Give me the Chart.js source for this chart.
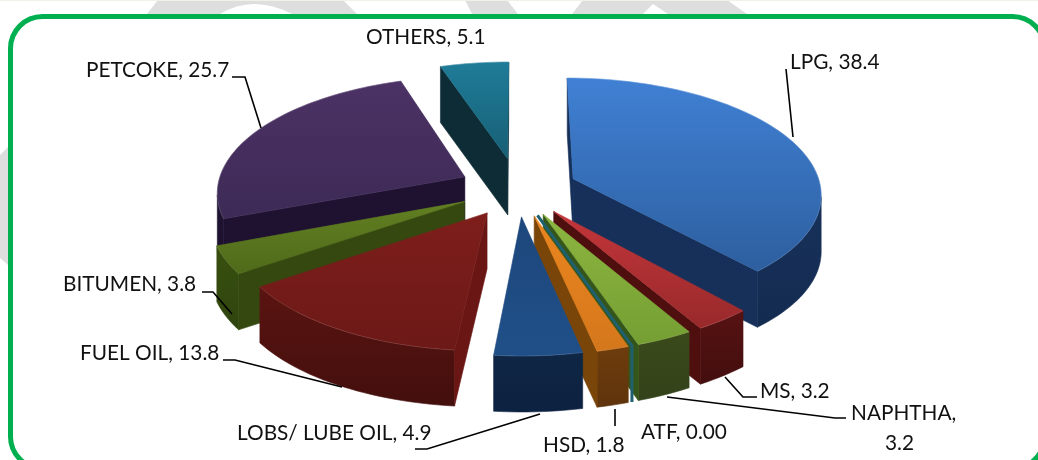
<!DOCTYPE html>
<html>
<head>
<meta charset="utf-8">
<style>html,body{margin:0;padding:0;background:#fff}canvas{display:block}#w{width:1038px;height:460px;position:relative}</style>
<script src="https://cdn.jsdelivr.net/npm/chart.js@4/dist/chart.umd.min.js"></script>
</head>
<body>
<div id="w"><canvas id="c" width="1038" height="460"></canvas></div>
<script>
const categories = ["LPG","MS","NAPHTHA","ATF","HSD","LOBS/ LUBE OIL","FUEL OIL","BITUMEN","PETCOKE","OTHERS"];
const values = [38.4,3.2,3.2,0,1.8,4.9,13.8,3.8,25.7,5.1];
const valueLabels = ["38.4","3.2","3.2","0.00","1.8","4.9","13.8","3.8","25.7","5.1"];
const explode = [0.24,0.24,0.24,0.24,0.24,0.24,0.24,0.24,0.24,0.27];

const topA = ["#4080d4","#c4363a","#8cb540","#1f6070","#ec861f","#1d477c","#7e1e1b","#637f22","#4c3265","#1f7c98"];
const topB = ["#2d5f9f","#98292b","#759f33","#1f6070","#d4771c","#204f88","#6c1917","#4f6b1a","#3d2a56","#175f75"];
const wallA = ["#1b3764","#571212","#3a4a1a","#1f6070","#6e3c0c","#0f2645","#5a1411","#38500f","#24163a","#0f3540"];
const wallB = ["#142b50","#430e0e","#33421a","#1f6070","#5f340c","#0d2140","#430f0d","#2f440e","#1c112d","#0c2a33"];
const cutColors = ["#16305a","#4f0f0f","#35561a","#1f6070","#7a4508","#12305a","#6a1614","#34480f","#1e1230","#0e2c35"];

const camera = {f:248, g:115, p:0.12, depth:56};
const labelFont = '20.8px Lato, "Noto Sans", sans-serif';
const labelSpots = [
  {i:0,x:790,y:62,line:[[786,69],[793,137]]},
  {i:1,x:760,y:391,line:[[725,377],[743,397],[757,397]]},
  {i:2,x:851,y:413,second:[885,443],line:[[667,397],[835,418],[846,418]]},
  {i:3,x:641,y:432},
  {i:4,x:543,y:445,line:[[615,409],[615,426]]},
  {i:5,x:237,y:433,line:[[415,449],[427,449],[540,414]]},
  {i:6,x:80,y:353,line:[[223,360],[235,360],[342,387]]},
  {i:7,x:63,y:284,line:[[202,292],[213,292],[232,314]]},
  {i:8,x:86,y:70,line:[[232,77],[245,77],[261,128]]},
  {i:9,x:366,y:37}
];

function poly(ctx, pts){ ctx.beginPath(); pts.forEach((p,k)=>k?ctx.lineTo(p[0],p[1]):ctx.moveTo(p[0],p[1])); ctx.closePath(); }
function paint(ctx, pts, fill, lw){ poly(ctx,pts); ctx.fillStyle=fill; ctx.strokeStyle=fill; ctx.lineWidth=lw; ctx.fill(); if(lw>0) ctx.stroke(); }
function vGrad(ctx, pts, a, b){ const ys=pts.map(p=>p[1]); const g=ctx.createLinearGradient(0,Math.min(...ys),0,Math.max(...ys)); g.addColorStop(0,a); g.addColorStop(1,b); return g; }

const frame = {
  id:'frame',
  beforeDraw(chart){
    const ctx=chart.ctx; ctx.save();
    ctx.fillStyle='#fff'; ctx.fillRect(0,0,1038,460);
    ctx.fillStyle='#dedede';
    [[[147,14],[158,0],[343,0],[357,14]],
     [[465,0],[507,0],[518,14],[472,14]],
     [[572,14],[583,0],[727,0],[747,14]],
     [[0,155],[8,147],[8,265],[0,258]]].forEach(s=>{poly(ctx,s);ctx.fill();});
    ctx.fillStyle='#fff';
    ctx.beginPath();ctx.moveTo(220,14);ctx.quadraticCurveTo(253,-6,292,14);ctx.closePath();ctx.fill();
    poly(ctx,[[643,14],[653,4],[668,14]]);ctx.fill();
    ctx.fillStyle='#eef3e4';ctx.fillRect(0,0,1038,1);
    ctx.beginPath();ctx.roundRect(10.5,16.5,1034,452,32);
    ctx.fillStyle='#fff';ctx.fill();
    ctx.strokeStyle='#00b050';ctx.lineWidth=5;ctx.stroke();
    ctx.restore();
  }
};

const pie3d = {
  id:'pie3d',
  beforeDatasetsDraw(chart){
    const ctx=chart.ctx, meta=chart.getDatasetMeta(0);
    const arcs=meta.data.map((a,i)=>({a,i,mid:(a.startAngle+a.endAngle)/2}));
    arcs.sort((p,q)=>Math.sin(p.mid)-Math.sin(q.mid));
    ctx.save();
    arcs.forEach(({a,i,mid})=>{
      const R=a.outerRadius, off=a.options.offset/R;
      const ou=Math.cos(mid)*off, ov=Math.sin(mid)*off;
      const proj=(u,v)=>{const w=1-camera.p*v;return [a.x+camera.f*u/w, a.y+camera.g*v/w];};
      const apex=proj(ou,ov);
      const rim=[]; const n=Math.max(1,Math.ceil((a.endAngle-a.startAngle)/0.03));
      for(let k=0;k<=n;k++){const t=a.startAngle+(a.endAngle-a.startAngle)*k/n; rim.push(proj(ou+Math.cos(t),ov+Math.sin(t)));}
      const down=p=>[p[0],p[1]+camera.depth];
      const first=rim[0], last=rim[rim.length-1];
      if(a.endAngle-a.startAngle<1e-6){
        ctx.lineCap='butt';
        ctx.strokeStyle=topA[i];
        ctx.lineWidth=3;
        ctx.beginPath();ctx.moveTo(apex[0],apex[1]);ctx.lineTo(first[0],first[1]);ctx.lineTo(first[0],first[1]+camera.depth);ctx.stroke();
        return;
      }
      // rim wall: contiguous runs of segments facing the viewer, each filled as one shape
      const wallFill=vGrad(ctx,rim.concat(rim.map(down)),wallA[i],wallB[i]);
      let run=[];
      const flush=()=>{ if(run.length>1) paint(ctx,run.concat(run.slice().reverse().map(down)),wallFill,0.6); run=[]; };
      for(let k=0;k<rim.length-1;k++){
        const p=rim[k], q=rim[k+1];
        if(q[0]<p[0]){ if(!run.length) run.push(p); run.push(q); } else flush();
      }
      flush();
      if(first[0]<apex[0]) paint(ctx,[apex,first,down(first),down(apex)],cutColors[i],0.6);
      if(apex[0]<last[0]) paint(ctx,[last,apex,down(apex),down(last)],cutColors[i],0.6);
      const top=[apex].concat(rim);
      paint(ctx,top,vGrad(ctx,top,topA[i],topB[i]),0.6);
      ctx.strokeStyle='rgba(255,255,255,0.10)';ctx.lineWidth=1;
      ctx.beginPath();rim.forEach((p,k)=>k?ctx.lineTo(p[0],p[1]):ctx.moveTo(p[0],p[1]));ctx.stroke();
    });
    ctx.restore();
    return false;
  },
  afterDraw(chart){
    const ctx=chart.ctx; ctx.save();
    ctx.font=labelFont; ctx.fillStyle='#111'; ctx.textBaseline='middle'; ctx.textAlign='left';
    ctx.strokeStyle='#000'; ctx.lineWidth=1.6;
    labelSpots.forEach(s=>{
      const name=categories[s.i], val=valueLabels[s.i];
      if(s.second){ ctx.fillText(name+',',s.x,s.y); ctx.fillText(val,s.second[0],s.second[1]); }
      else ctx.fillText(name+', '+val,s.x,s.y);
      if(s.line){ ctx.beginPath(); s.line.forEach((p,k)=>k?ctx.lineTo(p[0],p[1]):ctx.moveTo(p[0],p[1])); ctx.stroke(); }
    });
    ctx.restore();
  }
};

new Chart(document.getElementById('c'),{
  type:'pie',
  data:{labels:categories,datasets:[{data:values,backgroundColor:topA,borderWidth:0,
    offset:ctx=>explode[ctx.dataIndex]*200}]},
  options:{
    responsive:false,animation:false,radius:200,
    layout:{padding:{left:0,right:2,top:0,bottom:83}},
    plugins:{legend:{display:false},tooltip:{enabled:false}}
  },
  plugins:[frame,pie3d]
});
</script>
</body>
</html>
